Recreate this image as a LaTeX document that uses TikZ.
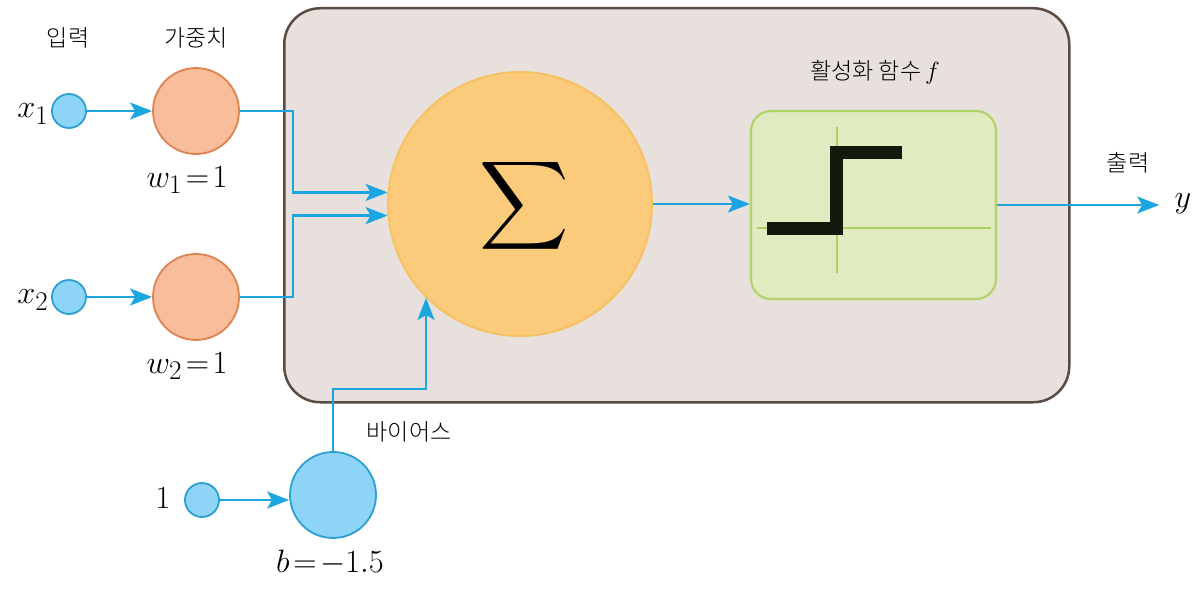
\documentclass[tikz,border=0pt]{standalone}
\usepackage{fontspec}
\newfontfamily\kr{Noto Sans CJK KR Light}
\usetikzlibrary{arrows.meta}
\definecolor{cy}{HTML}{1BA6DF}
\definecolor{inpfill}{HTML}{8ED4F6}
\definecolor{inpdraw}{HTML}{2AA0D5}
\definecolor{wfill}{HTML}{F8BE9C}
\definecolor{wdraw}{HTML}{E0814E}
\definecolor{boxfill}{HTML}{E7E0DC}
\definecolor{boxdraw}{HTML}{5B4B43}
\definecolor{sumfill}{HTML}{FBCA7A}
\definecolor{sumdraw}{HTML}{F6C160}
\definecolor{actfill}{HTML}{E0EBC0}
\definecolor{actdraw}{HTML}{B2D26A}
\definecolor{axisc}{HTML}{AECF66}
\definecolor{stepc}{HTML}{121A0B}
\tikzset{
  inp/.style={circle, draw=inpdraw, fill=inpfill, line width=1.8pt, minimum size=34pt, inner sep=0pt},
  wnode/.style={circle, draw=wdraw, fill=wfill, line width=1.8pt, minimum size=86pt, inner sep=0pt},
  bnode/.style={circle, draw=inpdraw, fill=inpfill, line width=1.8pt, minimum size=86pt, inner sep=0pt},
  arr/.style={draw=cy, line width=2.2pt, -{Stealth[length=22pt,width=17pt,inset=5pt]}},
  krl/.style={font=\kr\fontsize{23}{27}\selectfont, inner sep=1pt},
  ml/.style={font=\Huge, scale=1.3, inner sep=1pt},
}
\begin{document}
\begin{tikzpicture}[x=1pt,y=-1pt]
\useasboundingbox (0,0) rectangle (1196,594);
% main box
\node[draw=boxdraw, fill=boxfill, line width=2.5pt, rounded corners=36pt,
      minimum width=785pt, minimum height=394pt, anchor=north west, inner sep=0pt] (box) at (283,7) {};
% nodes
\node[inp] (x1) at (69,111) {};
\node[inp] (x2) at (69,297) {};
\node[inp] (one) at (202,500) {};
\node[wnode] (w1) at (196,111) {};
\node[wnode] (w2) at (196,297) {};
\node[bnode] (bias) at (333,495) {};
\node[circle, draw=sumdraw, fill=sumfill, line width=1.8pt, minimum size=264pt, inner sep=0pt] (sum) at (520,204) {};
\node[scale=6.2] (sigma) at (524,206) {$\displaystyle\sum$};
\node[rectangle, rounded corners=20pt, draw=actdraw, fill=actfill, line width=2.2pt,
      minimum width=245pt, minimum height=188pt, inner sep=0pt] (act) at (873.5,205) {};
% step function
\draw[axisc, line width=1.5pt] (837,127) -- (837,273);
\draw[axisc, line width=1.5pt] (757,228) -- (991,228);
\draw[stepc, line width=13pt, line join=miter] (767,228.5) -- (836.5,228.5) -- (836.5,152) -- (902,152);
% labels
\node[krl] (l1) at (68,38) {입력};
\node[krl] (l2) at (196,38) {가중치};
\node[krl] (l3) at (875,72) {활성화 함수\,$f$};
\node[krl] (l4) at (1128,163) {출력};
\node[krl] (l5) at (409,432) {바이어스};
\node[ml] (lx1) at (33,114) {$x_1$};
\node[ml] (lx2) at (33,300) {$x_2$};
\node[ml] (lone) at (163,498) {$1$};
\node[ml] (lw1) at (187,180) {$w_1\!=\!1$};
\node[ml] (lw2) at (187,366) {$w_2\!=\!1$};
\node[ml] (lb) at (330,563) {$b\!=\!-1.5$};
\node[ml] (ly) at (1183,204) {$y$};
% connectors
\draw[arr] (x1) -- (w1);
\draw[arr] (x2) -- (w2);
\draw[arr] (one) -- (one -| bias.west);
\draw[arr] (w1.east) -- ++(53,0) |- (sum.175);
\draw[arr] (w2.east) -- ++(53,0) |- (sum.185);
\draw[arr] (bias.north) -- ++(0,-62) -| (sum.225);
\draw[arr] (sum.east) -- (sum.east -| act.west);
\draw[arr, shorten >=14pt] (act.east) -- (act.east -| ly.west);
\end{tikzpicture}
\end{document}
